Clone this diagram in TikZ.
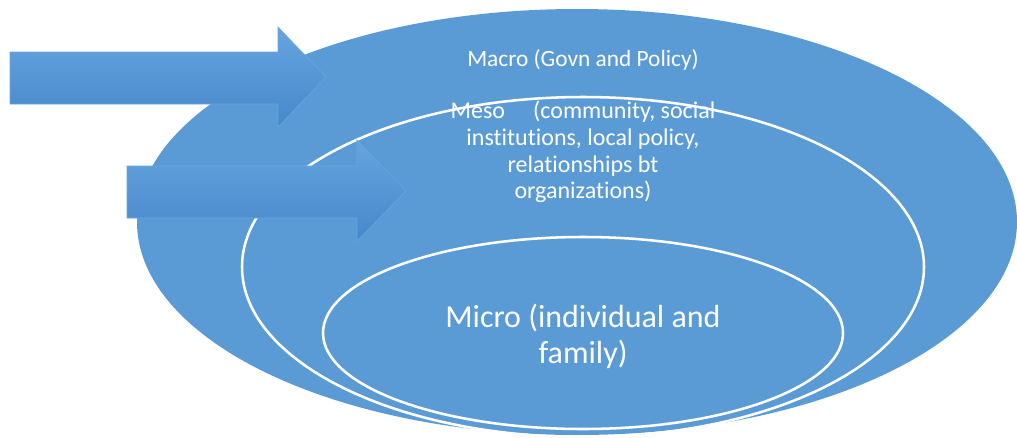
\documentclass[tikz,border=0pt]{standalone}
\usepackage{fontspec}
\setmainfont{Carlito}[Ligatures=NoCommon]
\begin{document}
\begin{tikzpicture}[x=0.75pt,y=-0.75pt,
  ring/.style={draw=white,line width=1.9pt},
  arrowbody/.style={top color=arrowtop,bottom color=arrowbot,draw=arrowedge,line width=0.4pt},
  label/.style={text=white,align=center,inner sep=0pt}]
\definecolor{disc}{HTML}{5B9BD5}
\definecolor{arrowtop}{HTML}{66A4DF}
\definecolor{arrowbot}{HTML}{4788CB}
\definecolor{arrowedge}{HTML}{6AA6DE}
\useasboundingbox (0,0) rectangle (1017,437);

% outer level
\fill[disc] (577,222) ellipse [x radius=440, y radius=213];
% middle level (outline only)
\draw[ring] (583,267) ellipse [x radius=341, y radius=170];
% inner level
\filldraw[disc,ring] (583,333) ellipse [x radius=260, y radius=96];

% block arrows
\shade[arrowbody] (10,52) -- (278,52) -- (278,27) -- (326,77) -- (278,127)
  -- (278,104) -- (10,104) -- cycle;
\shade[arrowbody] (127,166) -- (357,166) -- (357,140) -- (406,191) -- (357,241)
  -- (357,218) -- (127,218) -- cycle;

% level labels
\node[label,font=\fontsize{17.5pt}{20pt}\selectfont] (macro) at (583,60)
  {Macro (Govn and Policy)};
\node[label,font=\fontsize{18pt}{20pt}\selectfont] (meso) at (583,152)
  {Meso\hspace{21pt}(community, social\\institutions, local policy,\\relationships bt\\organizations)};
\node[label,font=\fontsize{24pt}{27pt}\selectfont] (micro) at (583,336)
  {Micro (individual and\\family)};
\end{tikzpicture}
\end{document}
